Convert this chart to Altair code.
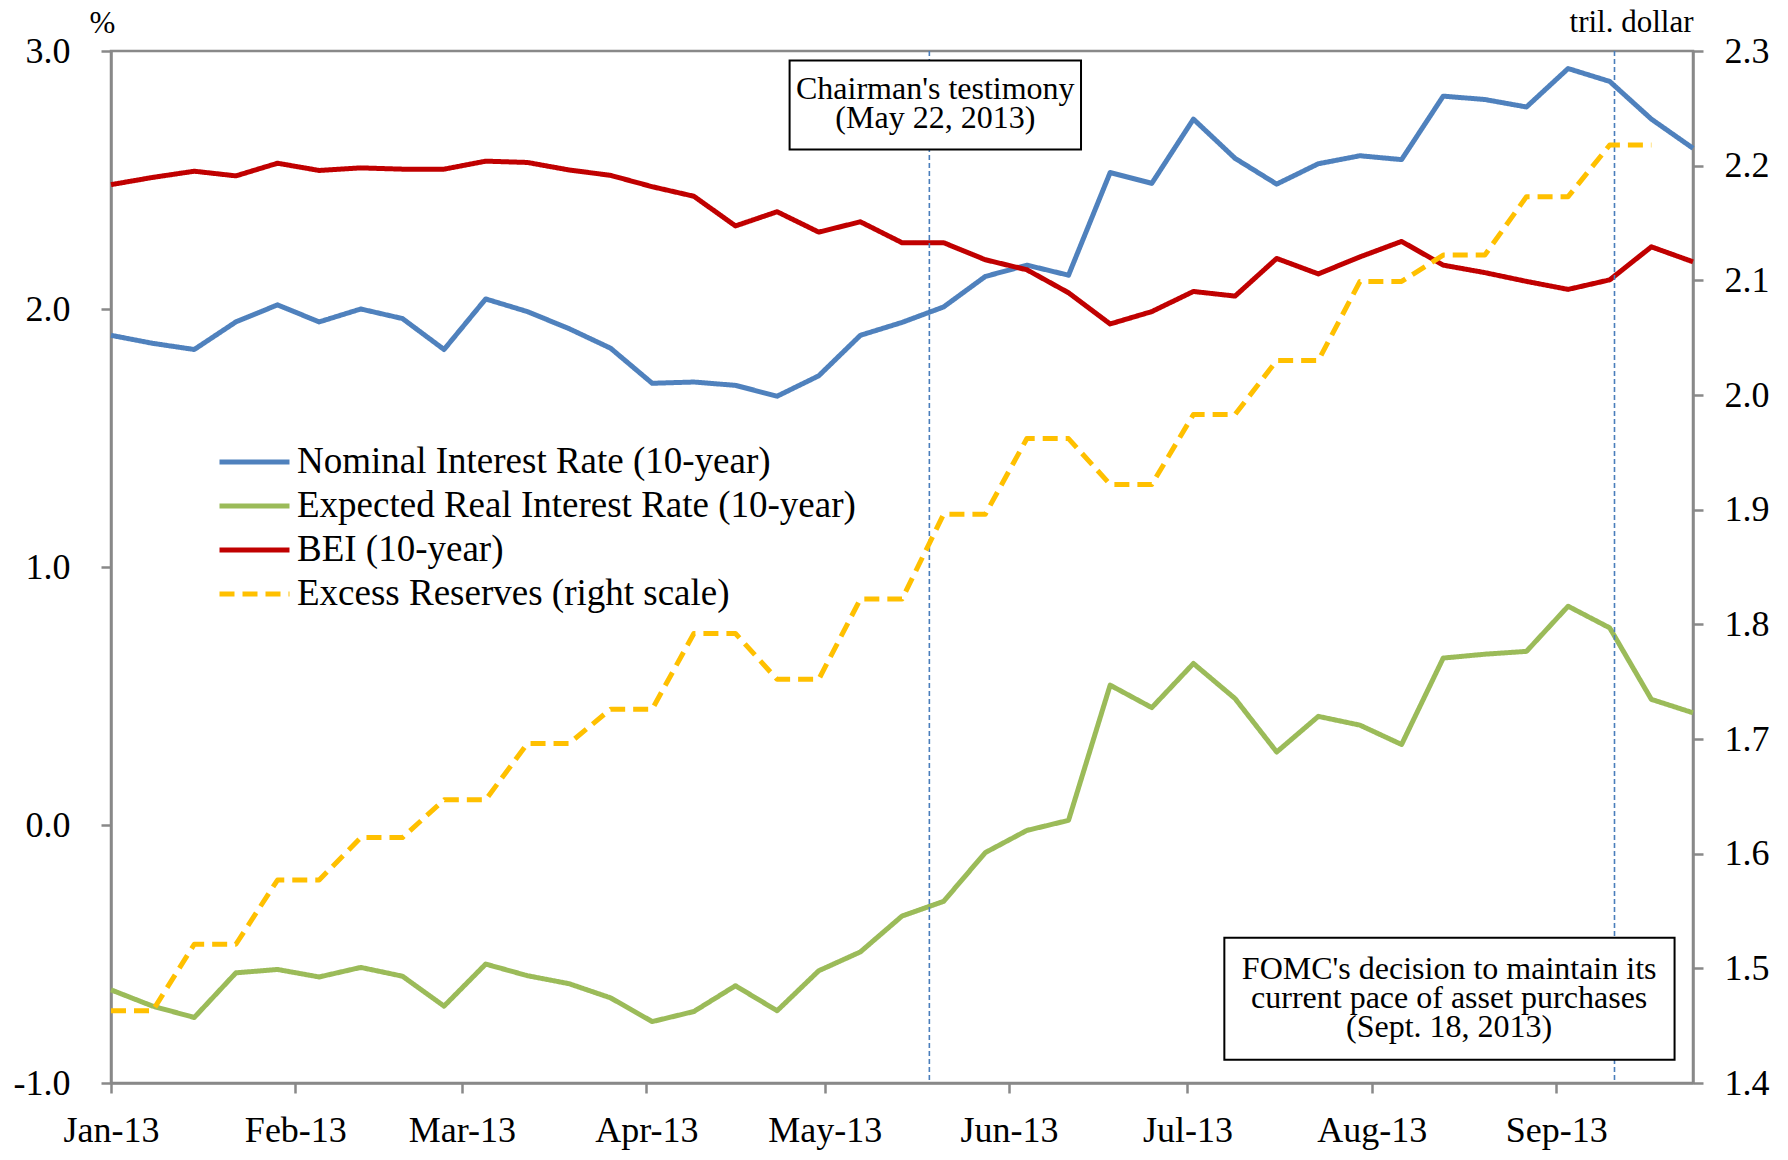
import altair as alt
import pandas as pd

FONT = "Liberation Serif"
GRAY = "#898989"

# weekly observation dates
dates = ["2013-01-04", "2013-01-11", "2013-01-18", "2013-01-25", "2013-02-01", "2013-02-08",
         "2013-02-15", "2013-02-22", "2013-03-01", "2013-03-08", "2013-03-15", "2013-03-22",
         "2013-03-29", "2013-04-05", "2013-04-12", "2013-04-19", "2013-04-26", "2013-05-03",
         "2013-05-10", "2013-05-17", "2013-05-24", "2013-05-31", "2013-06-07", "2013-06-14",
         "2013-06-21", "2013-06-28", "2013-07-05", "2013-07-12", "2013-07-19", "2013-07-26",
         "2013-08-02", "2013-08-09", "2013-08-16", "2013-08-23", "2013-08-30", "2013-09-06",
         "2013-09-13", "2013-09-20", "2013-09-27"]

nominal = [1.898, 1.867, 1.843, 1.950, 2.016, 1.950, 2.000, 1.963, 1.843, 2.039, 1.990, 1.924, 1.848,
           1.712, 1.717, 1.704, 1.662, 1.741, 1.898, 1.948, 2.008, 2.126, 2.170, 2.131, 2.529, 2.487,
           2.736, 2.584, 2.484, 2.563, 2.594, 2.579, 2.825, 2.812, 2.783, 2.932, 2.882, 2.736, 2.623]
real = [-0.639, -0.702, -0.746, -0.573, -0.560, -0.589, -0.552, -0.586, -0.702, -0.539, -0.584, -0.615, -0.670,
        -0.762, -0.723, -0.623, -0.720, -0.565, -0.492, -0.353, -0.296, -0.107, -0.021, 0.018, 0.542, 0.455,
        0.626, 0.490, 0.283, 0.421, 0.387, 0.312, 0.647, 0.662, 0.673, 0.848, 0.764, 0.487, 0.435]
bei = [2.482, 2.510, 2.534, 2.516, 2.565, 2.537, 2.547, 2.542, 2.542, 2.573, 2.568, 2.539, 2.518,
       2.474, 2.437, 2.322, 2.377, 2.298, 2.338, 2.257, 2.257, 2.191, 2.152, 2.063, 1.942, 1.990,
       2.068, 2.050, 2.196, 2.136, 2.202, 2.262, 2.170, 2.141, 2.107, 2.076, 2.113, 2.241, 2.183]
reserves = [1.463, 1.463, 1.521, 1.521, 1.577, 1.577, 1.614, 1.614, 1.647, 1.647, 1.696, 1.696, 1.726,
            1.726, 1.792, 1.792, 1.752, 1.752, 1.822, 1.822, 1.896, 1.896, 1.962, 1.962, 1.922, 1.922,
            1.983, 1.983, 2.030, 2.030, 2.099, 2.099, 2.122, 2.122, 2.173, 2.173, 2.218, 2.218]

series_names = ["Nominal Interest Rate (10-year)", "Expected Real Interest Rate (10-year)",
                "BEI (10-year)", "Excess Reserves (right scale)"]
series_colors = ["#4F81BD", "#9BBB59", "#C00000", "#FFC000"]
series_dashes = [[1, 0], [1, 0], [1, 0], [15, 8]]

tick_dates = ["2013-01-04", "2013-02-04", "2013-03-04", "2013-04-04", "2013-05-04",
              "2013-06-04", "2013-07-04", "2013-08-04", "2013-09-04"]
tick_labels = ["Jan-13", "Feb-13", "Mar-13", "Apr-13", "May-13", "Jun-13", "Jul-13", "Aug-13", "Sep-13"]
left_ticks = [-1.0, 0.0, 1.0, 2.0, 3.0]
right_ticks = [1.4, 1.5, 1.6, 1.7, 1.8, 1.9, 2.0, 2.1, 2.2, 2.3]

# event lines (day offsets)
event_days = [137.6, 252.8]
box_texts = ["Chairman's testimony\n(May 22, 2013)",
             "FOMC's decision to maintain its\ncurrent pace of asset purchases\n(Sept. 18, 2013)"]
box_x0 = [114.1, 187.2]
box_x1 = [163.1, 262.9]
box_y0 = [2.963, -0.437]
box_y1 = [2.618, -0.910]
text_x = [138.6, 225.0]
text_y = [2.852, -0.558]

start = pd.Timestamp(dates[0])
days = [(pd.Timestamp(d) - start).days for d in dates]
tick_days = [(pd.Timestamp(d) - start).days for d in tick_dates]

left_df = pd.DataFrame({
    "day": days * 3,
    "pct": nominal + real + bei,
    "series": [series_names[0]] * len(days) + [series_names[1]] * len(days) + [series_names[2]] * len(days),
})
right_df = pd.DataFrame({"day": days[:len(reserves)], "tril": reserves, "series": series_names[3]})
events_df = pd.DataFrame({"day": event_days})
boxes_df = pd.DataFrame({"day": box_x0, "day2": box_x1, "pct": box_y0, "pct2": box_y1})
texts_df = pd.DataFrame({"day": text_x, "pct": text_y, "text": box_texts})

label_expr = "''"
for d, lab in reversed(list(zip(tick_days, tick_labels))):
    label_expr = f"datum.value == {d} ? '{lab}' : {label_expr}"
num_expr = "datum.value < 0 ? '-' + format(-datum.value, '.1f') : format(datum.value, '.1f')"

x_scale = alt.Scale(domain=[0, days[-1]], nice=False, zero=False)
yl_scale = alt.Scale(domain=[-1, 3], nice=False, zero=False)
yr_scale = alt.Scale(domain=[1.4, 2.3], nice=False, zero=False)

axis_common = dict(domainColor=GRAY, domainWidth=2.5, tickColor=GRAY, tickWidth=2.5, tickSize=10,
                   labelFont=FONT, labelFontSize=36, labelColor="black", grid=False,
                   labelFlush=False, labelOverlap=False, titleFont=FONT, titleFontSize=31,
                   titleFontWeight="normal", titleColor="black")

x_axis = alt.Axis(values=tick_days, labelExpr=label_expr, title=None, labelPadding=20, **axis_common)
yl_axis = alt.Axis(values=left_ticks, labelExpr=num_expr, title="%", titleAngle=0, titleAlign="left",
                   titleBaseline="alphabetic", titleX=-22, titleY=-19, labelPadding=31, **axis_common)
yr_axis = alt.Axis(orient="right", values=right_ticks, labelExpr=num_expr, title="tril. dollar",
                   titleAngle=0, titleAlign="right", titleBaseline="alphabetic", titleX=0, titleY=-20,
                   labelPadding=21, **axis_common)

legend_props = dict(title=None, orient="none", legendX=106, legendY=389, symbolType="stroke",
                    symbolSize=4900, symbolStrokeWidth=5, labelFont=FONT, labelFontSize=37,
                    labelColor="black", labelOffset=5, labelLimit=1000, clipHeight=44,
                    rowPadding=0, padding=0)

color_enc = alt.Color("series:N", scale=alt.Scale(domain=series_names, range=series_colors),
                      legend=alt.Legend(**legend_props))
dash_enc = alt.StrokeDash("series:N", scale=alt.Scale(domain=series_names, range=series_dashes),
                          legend=alt.Legend(**legend_props))

left_lines = alt.Chart(left_df).mark_line(strokeWidth=5, strokeJoin="round").encode(
    x=alt.X("day:Q", scale=x_scale, axis=x_axis),
    y=alt.Y("pct:Q", scale=yl_scale, axis=yl_axis),
    color=color_enc,
    strokeDash=dash_enc,
    detail="series:N",
)

rules = alt.Chart(events_df).mark_rule(color="#4A7EBB", strokeWidth=1.6, strokeDash=[5, 3]).encode(
    x=alt.X("day:Q", scale=x_scale),
)

boxes = alt.Chart(boxes_df).mark_rect(fill="white", stroke="black", strokeWidth=2).encode(
    x=alt.X("day:Q", scale=x_scale), x2="day2:Q",
    y=alt.Y("pct:Q", scale=yl_scale), y2="pct2:Q",
)

texts = alt.Chart(texts_df).mark_text(font=FONT, fontSize=32, lineBreak="\n", lineHeight=29,
                                      align="center", baseline="middle", color="black").encode(
    x=alt.X("day:Q", scale=x_scale),
    y=alt.Y("pct:Q", scale=yl_scale),
    text="text:N",
)

inner = alt.layer(left_lines, rules, boxes, texts)

right_line = alt.Chart(right_df).mark_line(strokeWidth=5, strokeJoin="round", strokeCap="butt").encode(
    x=alt.X("day:Q", scale=x_scale),
    y=alt.Y("tril:Q", scale=yr_scale, axis=yr_axis),
    color=color_enc,
    strokeDash=dash_enc,
)

chart = alt.layer(inner, right_line).resolve_scale(y="independent").properties(
    width=1582, height=1032,
    padding={"left": 103, "top": 43, "right": 87, "bottom": 67},
    autosize=alt.AutoSizeParams(type="none"),
    background="white",
).configure_view(stroke=GRAY, strokeWidth=2.5)

chart.save("out.html", embed_options={"renderer": "svg", "actions": False})
